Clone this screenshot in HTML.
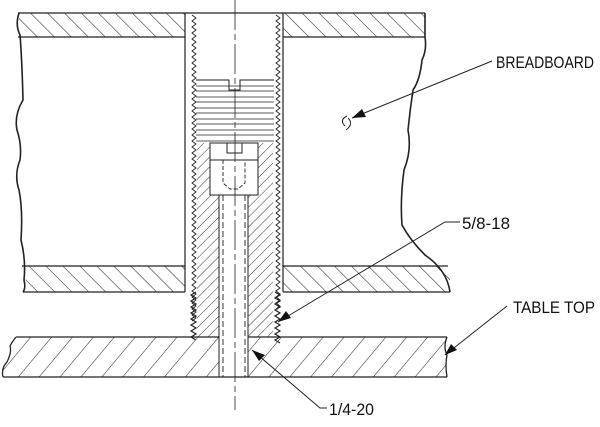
<!DOCTYPE html>
<html><head><style>html,body{margin:0;padding:0;background:#fff}svg{display:block}</style></head>
<body>
<svg width="600" height="427" viewBox="0 0 600 427" xmlns="http://www.w3.org/2000/svg">
<defs>
<pattern id="hb" width="12" height="12" patternUnits="userSpaceOnUse" patternTransform="rotate(-45)">
<line x1="0" y1="0" x2="0" y2="12" stroke="#333" stroke-width="1.2"/></pattern>
<pattern id="hs" width="7" height="7" patternUnits="userSpaceOnUse" patternTransform="rotate(45)">
<line x1="0" y1="0" x2="0" y2="7" stroke="#333" stroke-width="1"/></pattern>
<pattern id="hw" width="16" height="16" patternUnits="userSpaceOnUse" patternTransform="rotate(40)">
<line x1="0" y1="0" x2="0" y2="16" stroke="#333" stroke-width="1.1"/></pattern>
</defs>
<g fill="none" stroke="#222" stroke-width="1.2">
<rect x="19" y="13" width="166" height="24" fill="url(#hb)" stroke="none"/>
<rect x="283" y="13" width="142" height="24" fill="url(#hb)" stroke="none"/>
<path d="M25 266H185V292H26Z" fill="url(#hb)" stroke="none"/>
<path d="M283 266H447Q452 285 450 292H283Z" fill="url(#hb)" stroke="none"/>
<path d="M18 13H425M18 37H185M283 37H425M22 266H185M283 266H448M23 292H185M283 292H450"/>
<path d="M19 13Q15 25 20 35Q22 60 23 100Q14 115 17 130Q22 145 20 160Q14 175 19 190Q23 210 21 240Q26 260 24 280Q26 288 23 292" stroke-width="1.6"/>
<path d="M425 13V37Q427 50 422 60Q420 80 413 90Q410 110 408 130Q412 150 404 170Q400 200 402 225Q410 240 425 255Q447 270 450 292" stroke-width="1.6"/>
<path d="M185 13V292M283 13V292"/>
<path d="M192 15 l4 3 l-4 3 l4 3 l-4 3 l4 3 l-4 3 l4 3 l-4 3 l4 3 l-4 3 l4 3 l-4 3 l4 3 l-4 3 l4 3 l-4 3 l4 3 l-4 3 l4 3 l-4 3 l4 3 l-4 3 l4 3 l-4 3 l4 3 l-4 3 l4 3 l-4 3 l4 3 l-4 3 l4 3 l-4 3 l4 3 l-4 3 l4 3 l-4 3 l4 3 l-4 3 l4 3 l-4 3 l4 3 l-4 3 l4 3 l-4 3 l4 3 l-4 3 l4 3 l-4 3 l4 3 l-4 3 l4 3 l-4 3 l4 3 l-4 3 l4 3 l-4 3 l4 3 l-4 3 l4 3 l-4 3 l4 3 l-4 3 l4 3 l-4 3 l4 3 l-4 3 l4 3 l-4 3 l4 3 l-4 3 l4 3 l-4 3 l4 3 l-4 3 l4 3 l-4 3 l4 3 l-4 3 l4 3 l-4 3 l4 3 l-4 3 l4 3 l-4 3 l4 3 l-4 3 l4 3 l-4 3 l4 3 l-4 3 l4 3 l-4 3 l4 3 l-4 3 l4 3 l-4 3 l4 3 l-4 3 l4 3 l-4 3 l4 3 l-4 3" stroke-width="0.9"/>
<path d="M276 15 l4 3 l-4 3 l4 3 l-4 3 l4 3 l-4 3 l4 3 l-4 3 l4 3 l-4 3 l4 3 l-4 3 l4 3 l-4 3 l4 3 l-4 3 l4 3 l-4 3 l4 3 l-4 3 l4 3 l-4 3 l4 3 l-4 3 l4 3 l-4 3 l4 3 l-4 3 l4 3 l-4 3 l4 3 l-4 3 l4 3 l-4 3 l4 3 l-4 3 l4 3 l-4 3 l4 3 l-4 3 l4 3 l-4 3 l4 3 l-4 3 l4 3 l-4 3 l4 3 l-4 3 l4 3 l-4 3 l4 3 l-4 3 l4 3 l-4 3 l4 3 l-4 3 l4 3 l-4 3 l4 3 l-4 3 l4 3 l-4 3 l4 3 l-4 3 l4 3 l-4 3 l4 3 l-4 3 l4 3 l-4 3 l4 3 l-4 3 l4 3 l-4 3 l4 3 l-4 3 l4 3 l-4 3 l4 3 l-4 3 l4 3 l-4 3 l4 3 l-4 3 l4 3 l-4 3 l4 3 l-4 3 l4 3 l-4 3 l4 3 l-4 3 l4 3 l-4 3 l4 3 l-4 3 l4 3 l-4 3" stroke-width="0.9"/>
<path d="M196 80H229V90H240V80H274" stroke-width="1"/>
<path d="M196 86H274M196 91H274M196 97H274M196 102H274M196 108H274M196 113H274M196 119H274M196 124H274M196 130H274M196 135H274M196 141H274" stroke-width="0.8"/>
<path d="M197 143H210V195H219V337H197Z" fill="url(#hs)" stroke="none"/>
<path d="M258 143H273V337H248V195H258Z" fill="url(#hs)" stroke="none"/>
<path d="M196 292 l-5 3 l5 3 l-5 3 l5 3 l-5 3 l5 3 l-5 3 l5 3 l-5 3 l5 3 l-5 3 l5 3 l-5 3 l5 3 l-5 3 l5 3 M275 292 l5 3 l-5 3 l5 3 l-5 3 l5 3 l-5 3 l5 3 l-5 3 l5 3 l-5 3 l5 3 l-5 3 l5 3 l-5 3 l5 3 l-5 3 l5 3" stroke-width="1.2"/>
<rect x="210" y="143" width="48" height="52" fill="#fff" stroke-width="1"/>
<path d="M227 143V153H242V143M210 160H258" stroke-width="1"/>
<path d="M223 160V183L230 189H238L245 183V160" stroke-dasharray="4 2" stroke-width="0.9"/>
<path d="M219 195V377M248 195V377" stroke-width="1"/>
<path d="M223 195V377M245 195V377" stroke-dasharray="6 3" stroke-width="0.9"/>
<path d="M16 337H219V377H3Q1 368 7 362Q12 350 10 345Z" fill="url(#hw)" stroke="none"/>
<path d="M248 337H447Q443 347 447 355Q445 365 447 377H248Z" fill="url(#hw)" stroke="none"/>
<path d="M16 337H219M248 337H447M3 377H447M16 337Q12 342 10 346Q12 352 7 362Q1 368 3 377M447 337Q443 347 447 355Q445 365 447 377" stroke-width="1.3"/>
<path d="M235 0V410" stroke-width="0.8" stroke-dasharray="30 4 6 4"/>
<path d="M492 61L352 118M460 222H445L278 322M507 306L445 355M327 408L320 408L252 350" stroke-width="1"/>
<path d="M345 126q-6 -6 2 -10M348 118q6 6 -2 12" stroke-width="1"/>
</g>
<g fill="#111">
<polygon points="352,118 362,109 366,117"/>
<polygon points="278,322 286,311 291,318"/>
<polygon points="445,355 451,344 457,350"/>
<polygon points="252,350 265,355 259,361"/>
</g>
<g font-family="Liberation Sans, sans-serif" font-size="17" fill="#111">
<text x="496" y="68" textLength="98" lengthAdjust="spacingAndGlyphs">BREADBOARD</text>
<text x="462" y="229" textLength="48" lengthAdjust="spacingAndGlyphs">5/8-18</text>
<text x="513" y="313" textLength="82" lengthAdjust="spacingAndGlyphs">TABLE TOP</text>
<text x="329" y="415" textLength="45" lengthAdjust="spacingAndGlyphs">1/4-20</text>
</g>
</svg>
</body></html>
